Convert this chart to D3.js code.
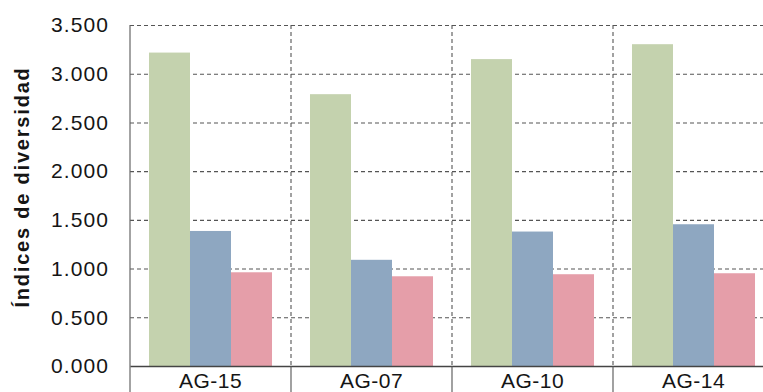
<!DOCTYPE html>
<html>
<head>
<meta charset="utf-8">
<script src="https://cdn.jsdelivr.net/npm/d3@7/dist/d3.min.js"></script>
<style>
html,body{margin:0;padding:0;background:#fff;}
svg{display:block;}
text{font-family:"Liberation Sans",Arial,sans-serif;}
</style>
</head>
<body>
<svg id="chart" width="763" height="392"></svg>
<script>
const categories = ["AG-15", "AG-07", "AG-10", "AG-14"];
const seriesNames = ["Índice 1", "Índice 2", "Índice 3"];
const series1 = [3.217, 2.790, 3.150, 3.303];
const series2 = [1.386, 1.090, 1.380, 1.455];
const series3 = [0.962, 0.921, 0.942, 0.952];
const yTicks = [0, 0.5, 1.0, 1.5, 2.0, 2.5, 3.0, 3.5];
const colors = ["#c4d2ae", "#8ea7c1", "#e59ea9"];

const seriesValues = [series1, series2, series3];
const svg = d3.select("#chart");
const mLeft = 130, mTop = 25, mBottom = 366, mRight = 774;

const x = d3.scaleBand().domain(categories).range([mLeft, mRight]).paddingInner(0).paddingOuter(0);
const xs = d3.scaleBand().domain(seriesNames).range([0, x.bandwidth()]).paddingInner(0).paddingOuter(0.463);
const y = d3.scaleLinear().domain([0, 3.5]).range([mBottom, mTop]);

// horizontal dashed grid
const grid = svg.append("g")
  .attr("transform", `translate(${mLeft},0)`)
  .call(d3.axisLeft(y).tickValues(yTicks.filter(d => d > 0)).tickSize(-(mRight - mLeft)).tickFormat(""));
grid.select(".domain").remove();
grid.selectAll("line").attr("stroke", "#555").attr("stroke-width", 1.1).attr("stroke-dasharray", "4,3");

// vertical dashed separators
svg.append("g").selectAll("line")
  .data(categories.slice(1))
  .join("line")
  .attr("x1", d => x(d)).attr("x2", d => x(d))
  .attr("y1", mTop).attr("y2", mBottom)
  .attr("stroke", "#555").attr("stroke-width", 1.1).attr("stroke-dasharray", "4,3");

// bars
const data = [];
categories.forEach((c, i) => seriesNames.forEach((s, j) => data.push({c, s, v: seriesValues[j][i], j})));
svg.append("g").selectAll("rect")
  .data(data)
  .join("rect")
  .attr("x", d => x(d.c) + xs(d.s))
  .attr("width", xs.bandwidth())
  .attr("y", d => y(d.v))
  .attr("height", d => mBottom - y(d.v))
  .attr("fill", d => colors[d.j]);

// y axis labels
const yAxis = svg.append("g")
  .attr("transform", `translate(${mLeft},0)`)
  .call(d3.axisLeft(y).tickValues(yTicks).tickSize(0).tickPadding(21).tickFormat(d3.format(".3f")));
yAxis.select(".domain").remove();
yAxis.selectAll("text").attr("font-size", 21).attr("fill", "#151515")
  .attr("letter-spacing", "1.1px")
  .attr("font-family", "'Liberation Sans', Arial, sans-serif");

// left axis line
svg.append("line").attr("x1", mLeft).attr("x2", mLeft).attr("y1", mTop).attr("y2", 392)
  .attr("stroke", "#666").attr("stroke-width", 1.2);

// x axis
const xAxis = svg.append("g")
  .attr("transform", `translate(0,${mBottom})`)
  .call(d3.axisBottom(x).tickSize(0).tickPadding(7));
xAxis.select(".domain").attr("stroke", "#444").attr("stroke-width", 1.3);
xAxis.selectAll("text").attr("font-size", 21).attr("fill", "#151515")
  .attr("letter-spacing", "0.5px")
  .attr("font-family", "'Liberation Sans', Arial, sans-serif");

// category boundary ticks below axis
svg.append("g").selectAll("line")
  .data(categories.slice(1))
  .join("line")
  .attr("x1", d => x(d)).attr("x2", d => x(d))
  .attr("y1", mBottom).attr("y2", 392)
  .attr("stroke", "#555").attr("stroke-width", 1.1);

// y title
svg.append("text")
  .attr("transform", `translate(29,187) rotate(-90)`)
  .attr("text-anchor", "middle")
  .attr("font-size", 20)
  .attr("font-weight", "bold")
  .attr("letter-spacing", "1.8px")
  .attr("fill", "#151515")
  .text("Índices de diversidad");
</script>
</body>
</html>
